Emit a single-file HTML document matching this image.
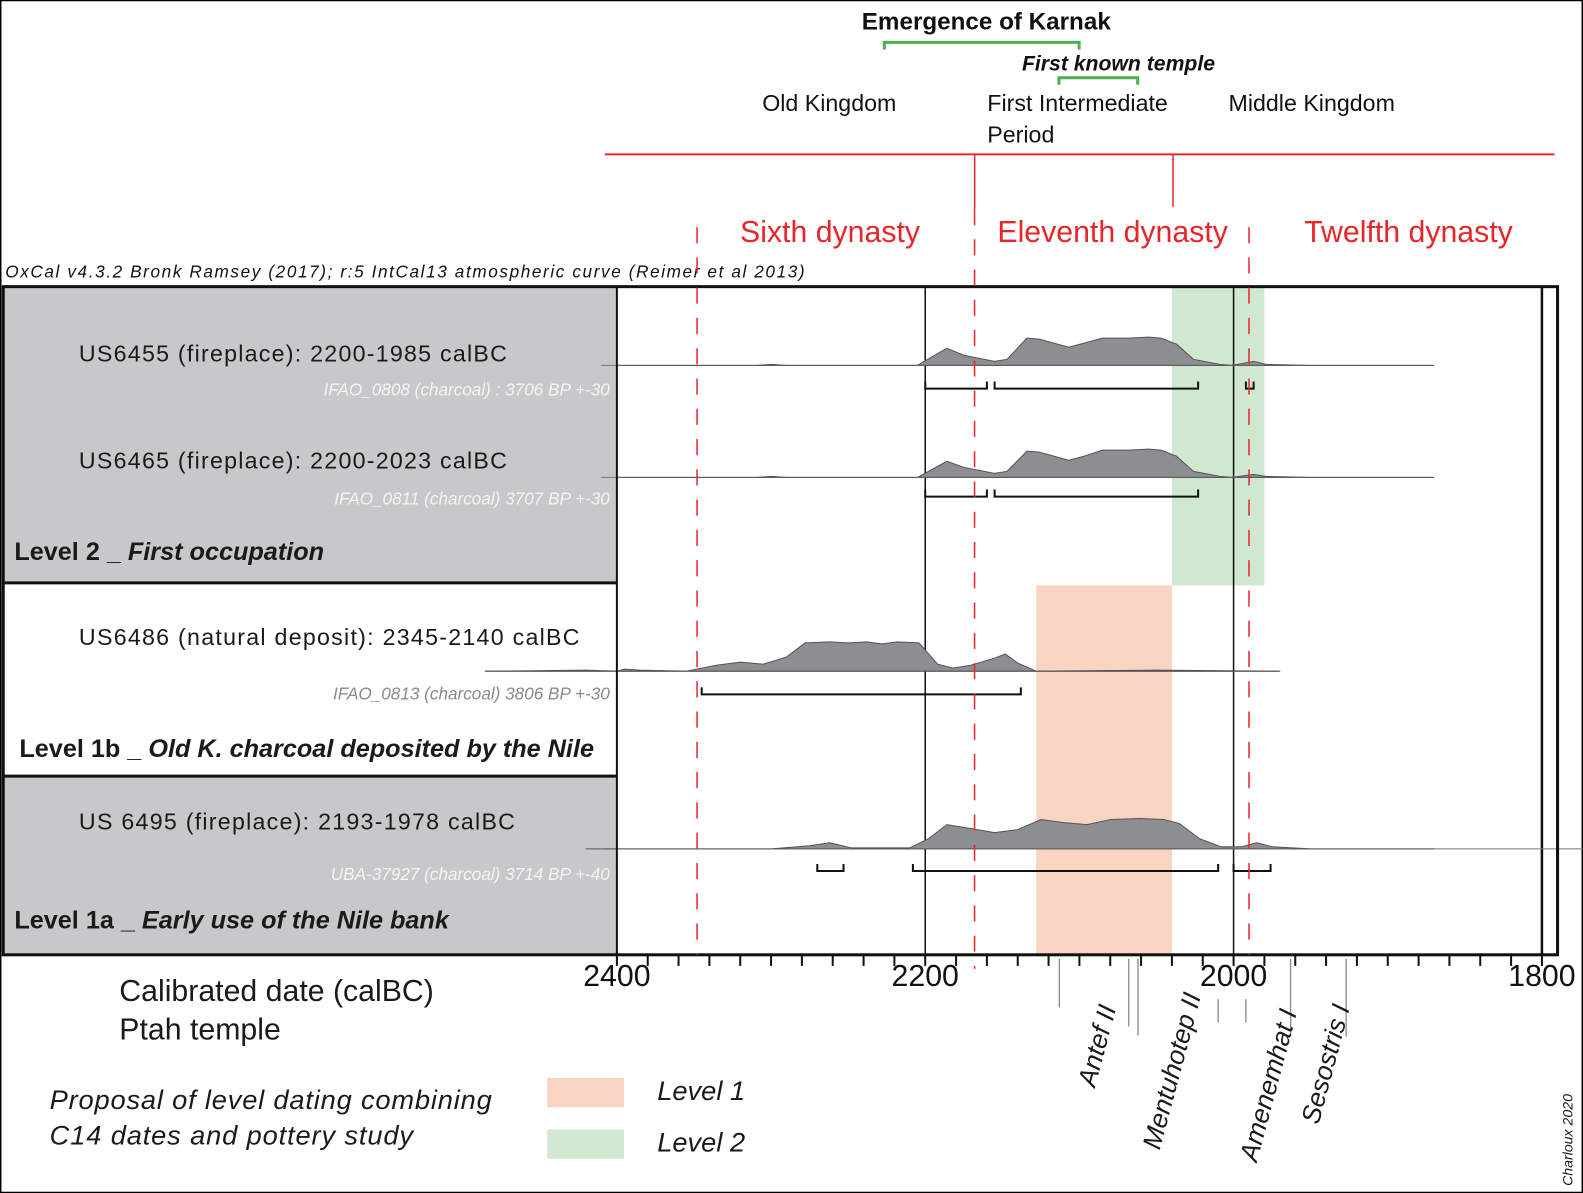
<!DOCTYPE html>
<html><head><meta charset="utf-8"><style>
html,body{margin:0;padding:0;background:#fff}
svg{display:block}
text{font-family:"Liberation Sans",sans-serif}
</style></head><body>
<svg id="chart" width="1583" height="1193" viewBox="0 0 1568 1182" xmlns="http://www.w3.org/2000/svg">
<rect x="0.5" y="0.5" width="1567" height="1181" fill="#fff" stroke="#000" stroke-width="1.5"/>
<!-- header -->
<text x="977" y="29" font-size="24" font-weight="bold" text-anchor="middle" fill="#111">Emergence of Karnak</text>
<path d="M876,49 V42 H1069 V49" fill="none" stroke="#4cb050" stroke-width="3"/>
<text x="1108" y="70" font-size="21" font-weight="bold" font-style="italic" text-anchor="middle" fill="#111">First known temple</text>
<path d="M1049,84 V77 H1127 V84" fill="none" stroke="#4cb050" stroke-width="3"/>
<text x="755" y="110" font-size="23" fill="#111">Old Kingdom</text>
<text x="978" y="110" font-size="23" fill="#111">First Intermediate</text>
<text x="978" y="141" font-size="23" fill="#111">Period</text>
<text x="1217" y="110" font-size="23" fill="#111">Middle Kingdom</text>
<line x1="599" y1="153" x2="1540" y2="153" stroke="#e8262a" stroke-width="2"/>
<line x1="965.5" y1="153" x2="965.5" y2="207" stroke="#e8262a" stroke-width="1.5"/>
<line x1="1162" y1="153" x2="1162" y2="205" stroke="#e8262a" stroke-width="1.5"/>
<text x="733" y="240" font-size="30" fill="#e8262a">Sixth dynasty</text>
<text x="988" y="240" font-size="30" fill="#e8262a">Eleventh dynasty</text>
<text x="1292" y="240" font-size="30" fill="#e8262a">Twelfth dynasty</text>
<text x="5" y="275" font-size="17" font-style="italic" fill="#111" textLength="792">OxCal v4.3.2 Bronk Ramsey (2017); r:5 IntCal13 atmospheric curve (Reimer et al 2013)</text>
<!-- panels -->
<rect x="4" y="284" width="607" height="293" fill="#c8c8ca"/>
<rect x="4" y="577" width="607" height="192" fill="#fff"/>
<rect x="4" y="769" width="607" height="177" fill="#c8c8ca"/>
<g id="plot"></g>
<line x1="3" y1="577.5" x2="611" y2="577.5" stroke="#111" stroke-width="3"/>
<line x1="3" y1="769" x2="611" y2="769" stroke="#111" stroke-width="3"/>
<line x1="611" y1="284" x2="611" y2="946" stroke="#111" stroke-width="2"/>
<rect x="3" y="284" width="1540" height="662" fill="none" stroke="#111" stroke-width="3"/>
<text x="78" y="358" font-size="23" fill="#1a1a1a" textLength="424">US6455 (fireplace): 2200-1985 calBC</text>
<text x="604" y="392" font-size="17" font-style="italic" fill="#f4f4f4" text-anchor="end">IFAO_0808 (charcoal) : 3706 BP +-30</text>
<text x="78" y="464" font-size="23" fill="#1a1a1a" textLength="424">US6465 (fireplace): 2200-2023 calBC</text>
<text x="604" y="500" font-size="17" font-style="italic" fill="#f4f4f4" text-anchor="end">IFAO_0811 (charcoal) 3707 BP +-30</text>
<text x="14" y="555" font-size="25" font-weight="bold" fill="#1a1a1a">Level 2 _ <tspan font-style="italic">First occupation</tspan></text>
<text x="78" y="639" font-size="23" fill="#1a1a1a" textLength="496">US6486 (natural deposit): 2345-2140 calBC</text>
<text x="604" y="693" font-size="17" font-style="italic" fill="#8a8a8a" text-anchor="end">IFAO_0813 (charcoal) 3806 BP +-30</text>
<text x="19" y="750" font-size="25" font-weight="bold" fill="#1a1a1a">Level 1b _ <tspan font-style="italic">Old K. charcoal deposited by the Nile</tspan></text>
<text x="78" y="822" font-size="23" fill="#1a1a1a" textLength="432">US 6495 (fireplace): 2193-1978 calBC</text>
<text x="604" y="872" font-size="17" font-style="italic" fill="#f4f4f4" text-anchor="end">UBA-37927 (charcoal) 3714 BP +-40</text>
<text x="14" y="920" font-size="25" font-weight="bold" fill="#1a1a1a">Level 1a _ <tspan font-style="italic">Early use of the Nile bank</tspan></text>
<!-- bottom -->
<text x="118" y="992" font-size="30" fill="#1a1a1a">Calibrated date (calBC)</text>
<text x="118" y="1030" font-size="30" fill="#1a1a1a">Ptah temple</text>
<text x="49" y="1099" font-size="27" font-style="italic" fill="#1a1a1a" textLength="438">Proposal of level dating combining</text>
<text x="49" y="1134" font-size="27" font-style="italic" fill="#1a1a1a" textLength="360">C14 dates and pottery study</text>
<rect x="542" y="1068" width="76" height="29" fill="#fad4c3"/>
<text x="651" y="1090" font-size="27" font-style="italic" fill="#1a1a1a">Level 1</text>
<rect x="542" y="1119" width="76" height="29" fill="#d0e8cf"/>
<text x="651" y="1141" font-size="27" font-style="italic" fill="#1a1a1a">Level 2</text>
<text transform="translate(1558,1175) rotate(-90)" font-size="14" font-style="italic" fill="#1a1a1a">Charloux 2020</text>
</svg>
<script>
const axisTicks=[2400,2200,2000,1800];
const level2Range=[2040,1980];
const level1Range=[2128,2040];
const dynastyDashes=[2348,2168,1990];
const reignYears=[2113,2068,2062,2010,1992,1963,1927];
const reignNames=['Antef II','Mentuhotep II','Amenemhat I','Sesostris I'];
const reignNameYears=[2090,2048,1985,1945];
const dist1=[[2400,0],[2310,0],[2300,1],[2290,0],[2205,0],[2186,17],[2175,10],[2155,4],[2147,6],[2134,27],[2126,26],[2107,18],[2097,22],[2085,27],[2068,27],[2055,28],[2047,27],[2037,21],[2026,6],[2009,1],[2001,0],[1987,4],[1979,1],[1950,0],[1870,0]];
const dist2=[[2400,0],[2310,0],[2300,1],[2290,0],[2205,0],[2186,16],[2175,10],[2155,4],[2147,6],[2134,26],[2126,25],[2107,17],[2097,21],[2085,27],[2068,27],[2055,28],[2047,27],[2037,21],[2026,6],[2009,1],[2001,0],[1987,3],[1979,1],[1950,0],[1870,0]];
const dist3=[[2485,0],[2420,1],[2400,0],[2395,2],[2385,1],[2355,0],[2335,6],[2320,9],[2305,7],[2290,14],[2278,28],[2262,29],[2250,28],[2238,29],[2228,27],[2218,29],[2204,28],[2192,7],[2182,3],[2170,6],[2155,13],[2148,17],[2140,8],[2128,0],[2050,1],[1970,0]];
const dist4=[[2420,0],[2300,0],[2275,3],[2262,6],[2248,1],[2210,1],[2198,10],[2186,24],[2170,20],[2155,16],[2140,19],[2125,29],[2110,26],[2095,24],[2080,29],[2060,30],[2045,29],[2035,25],[2022,10],[2008,2],[1995,2],[1985,6],[1975,2],[1950,0],[1870,0]];
const hpd1=[[2200,2160],[2155,2023],[1992,1987]];
const hpd2=[[2200,2160],[2155,2023]];
const hpd3=[[2345,2138]];
const hpd4=[[2270,2253],[2208,2010],[2000,1976]];
const rows=[
 {d:dist1,h:hpd1,base:362,bar:385,x0:595,x1:1420},
 {d:dist2,h:hpd2,base:473,bar:492,x0:595,x1:1420},
 {d:dist3,h:hpd3,base:665,bar:688,x0:480,x1:1267},
 {d:dist4,h:hpd4,base:841,bar:863,x0:600,x1:1568}];
const X=y=>611+(2400-y)*1.5275;
const NS='http://www.w3.org/2000/svg';
const svg=document.getElementById('chart');
const plot=document.getElementById('plot');
function mk(tag,attrs,parent){const e=document.createElementNS(NS,tag);for(const k in attrs)e.setAttribute(k,attrs[k]);(parent||plot).appendChild(e);return e;}
let r=mk('rect',{x:X(level2Range[0]),y:285,width:X(level2Range[1])-X(level2Range[0]),height:295,fill:'#d0e8cf'});


r=mk('rect',{x:X(level1Range[0]),y:580,width:X(level1Range[1])-X(level1Range[0]),height:366,fill:'#fad4c3'});


axisTicks.forEach((t,i)=>{if(i===0)return;const l=mk('line',{x1:X(t),y1:285,x2:X(t),y2:946,stroke:'#111','stroke-width':t===1800?2.5:1.5});

});
rows.forEach((row,i)=>{
 const bl=mk('line',{x1:row.x0,y1:row.base,x2:row.x1,y2:row.base,stroke:'#777','stroke-width':1});
 
 
 let d='M'+X(row.d[0][0])+','+row.base;
 row.d.forEach(p=>{d+=' L'+X(p[0]).toFixed(1)+','+(row.base-p[1]);});
 d+=' L'+X(row.d[row.d.length-1][0])+','+row.base+' Z';
 const a=mk('path',{d:d,fill:'#8d8e91',stroke:'#555','stroke-width':1,'stroke-linejoin':'round'});
 
 
 row.h.forEach((h,j)=>{
  const b=mk('path',{d:'M'+X(h[0])+','+(row.bar-7)+' V'+row.bar+' H'+X(h[1])+' V'+(row.bar-7),fill:'none',stroke:'#111','stroke-width':2});
  
  
 });
});
dynastyDashes.forEach((y,i)=>{const l=mk('line',{x1:X(y),y1:i===1?207:225,x2:X(y),y2:i===1?960:946,stroke:'#e8262a','stroke-width':1.5,'stroke-dasharray':'16,14'},svg);

});
for(let y=2400;y>=1800;y-=20){const l=mk('line',{x1:X(y),y1:946,x2:X(y),y2:957,stroke:'#111','stroke-width':2},svg);

}
axisTicks.forEach(t=>{const tx=mk('text',{x:X(t),y:977,'font-size':30,'text-anchor':'middle',fill:'#111'},svg);tx.textContent=t;

});
const reignY=[[950,998],[950,1017],[950,1026],[990,1013],[990,1013],[950,1027],[950,1027]];
reignYears.forEach((y,i)=>{const l=mk('line',{x1:X(y),y1:reignY[i][0],x2:X(y),y2:reignY[i][1],stroke:'#888','stroke-width':1.3},svg);

});
const nameY=[1078,1140,1152,1115];
reignNames.forEach((n,i)=>{const t=mk('text',{transform:'translate('+X(reignNameYears[i])+','+nameY[i]+') rotate(-75)','font-size':26,'font-style':'italic',fill:'#1a1a1a'},svg);t.textContent=n;

});
</script>
</body></html>
